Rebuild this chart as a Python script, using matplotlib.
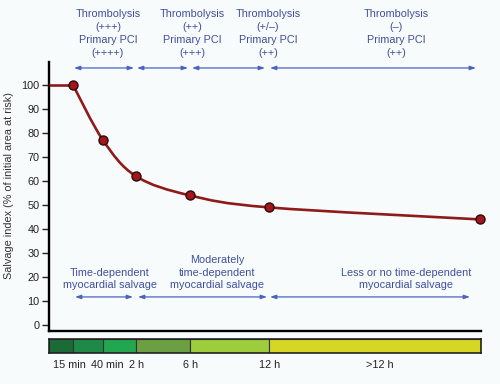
import matplotlib
matplotlib.use('Agg')
import matplotlib.pyplot as plt
from matplotlib.path import Path
from matplotlib.patches import PathPatch
import numpy as np

plt.rcParams['font.family'] = ['Liberation Sans', 'DejaVu Sans']

# positions along the time line (arbitrary display units, axis runs 0..432)
stage_x = [24, 54, 87, 141, 220, 431]
salvage = [100, 77, 62, 54, 49, 44]

# time bar
bar_edges = [0, 24, 54, 87, 141, 220, 432]
bar_colors = ['#1b6b37', '#1e8a48', '#22a650', '#6b9f42', '#9dcc3c', '#d6d624']
time_labels = ['15 min', '40 min', '2 h', '6 h', '12 h', '>12 h']
time_label_x = [20, 58, 88, 142, 221, 331]

# top annotations (treatment benefit)
top_text = ['Thrombolysis\n(+++)\nPrimary PCI\n(++++)',
            'Thrombolysis\n(++)\nPrimary PCI\n(+++)',
            'Thrombolysis\n(+/\u2013)\nPrimary PCI\n(++)',
            'Thrombolysis\n(\u2013)\nPrimary PCI\n(++)']
top_text_x = [59, 143, 219, 347]
top_spans = [(25, 85), (88, 139), (143, 216), (221, 427)]

# bottom annotations (salvage)
bot_text = ['Time-dependent\nmyocardial salvage',
            'Moderately\ntime-dependent\nmyocardial salvage',
            'Less or no time-dependent\nmyocardial salvage']
bot_text_x = [61, 168, 357]
bot_spans = [(26, 84), (89, 218), (221, 421)]

txt_col = '#3f4f9e'
arr_col = '#4a63c0'
line_col = '#8e1a1a'
bg = '#f8fbfb'
fs = 7.8


def smooth_path(xs, ys):
    # catmull-rom through the points, written as cubic bezier pieces
    pts = np.column_stack([xs, ys]).astype(float)
    n = len(pts)
    tang = np.zeros_like(pts)
    for i in range(n):
        a = pts[max(i - 1, 0)]
        b = pts[min(i + 1, n - 1)]
        tang[i] = (b - a) / 2.0
    verts = [pts[0]]
    codes = [Path.MOVETO]
    for i in range(n - 1):
        verts += [pts[i] + tang[i] / 3.0, pts[i + 1] - tang[i + 1] / 3.0, pts[i + 1]]
        codes += [Path.CURVE4] * 3
    return Path(verts, codes)


fig = plt.figure(figsize=(5.0, 3.84), dpi=100, facecolor=bg)
ax = fig.add_axes([0.098, 0.138, 0.864, 0.700])
ax.set_facecolor(bg)
ax.set_xlim(0, 432)
ax.set_ylim(-2.5, 109.5)

for s in ['top', 'right']:
    ax.spines[s].set_visible(False)
ax.spines['left'].set_linewidth(1.7)
ax.spines['bottom'].set_linewidth(1.7)
ax.set_xticks([])
ax.set_yticks(range(0, 101, 10))
ax.tick_params(axis='y', length=5, width=1.0, labelsize=fs, pad=2, colors='#222222')
ax.set_ylabel('Salvage index (% of initial area at risk)', fontsize=fs, color='#333333')
ax.yaxis.set_label_coords(-0.082, 0.54)

# flat part before first point, then the smooth curve
ax.plot([0, stage_x[0]], [salvage[0], salvage[0]], color=line_col, lw=1.9,
        solid_capstyle='butt', zorder=3)
curve = smooth_path(stage_x, salvage)
ax.add_patch(PathPatch(curve, facecolor='none', edgecolor=line_col, lw=1.9, zorder=3))
ax.plot(stage_x, salvage, 'o', ms=6.5, mfc='#a3171c', mec='#2a0b0b', mew=1.0,
        zorder=4, clip_on=False)

head = dict(arrowstyle='<|-|>,head_length=0.35,head_width=0.12', color=arr_col,
            lw=0.9, shrinkA=0, shrinkB=0)

for (a, b) in top_spans:
    ax.annotate('', xy=(b, 107.1), xytext=(a, 107.1), arrowprops=head,
                annotation_clip=False)
for t, x in zip(top_text, top_text_x):
    ax.text(x, 121.5, t, ha='center', va='center', fontsize=fs, color=txt_col,
            linespacing=1.4, clip_on=False)

for (a, b) in bot_spans:
    ax.annotate('', xy=(b, 11.7), xytext=(a, 11.7), arrowprops=head,
                annotation_clip=False)
for t, x in zip(bot_text, bot_text_x):
    ax.text(x, 14.6, t, ha='center', va='bottom', fontsize=fs, color=txt_col,
            linespacing=1.29)

# time bar underneath
axb = fig.add_axes([0.098, 0.0807, 0.864, 0.0365])
axb.set_facecolor(bg)
lefts = bar_edges[:-1]
widths = np.diff(bar_edges)
axb.barh(0, widths, left=lefts, height=1.0, color=bar_colors,
         edgecolor='#333333', linewidth=0.8)
axb.set_xlim(0, 432)
axb.set_ylim(-0.5, 0.5)
axb.set_yticks([])
axb.set_xticks(time_label_x)
axb.set_xticklabels(time_labels, fontsize=fs, color='#222222')
axb.tick_params(axis='x', length=0, pad=5)
for s in axb.spines.values():
    s.set_linewidth(1.2)
    s.set_color('#222222')

fig.savefig('out.png', dpi=100, facecolor=bg)
